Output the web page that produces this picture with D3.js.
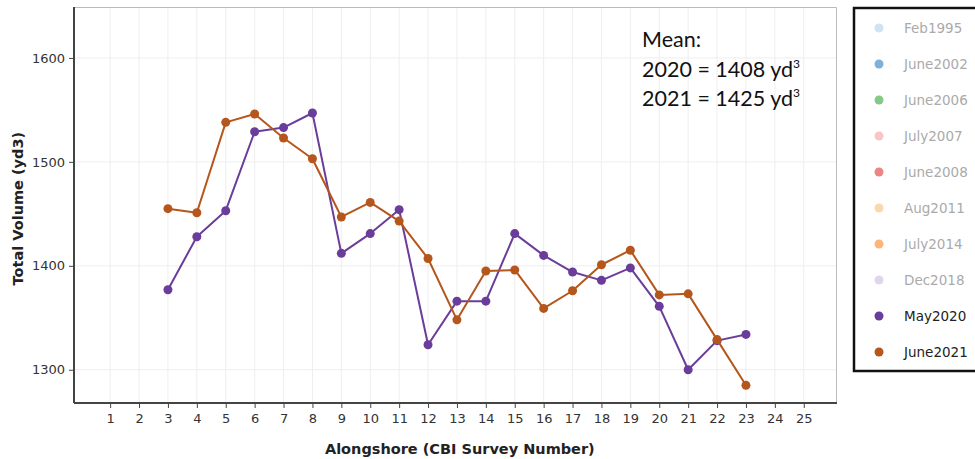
<!DOCTYPE html>
<html>
<head>
<script src="https://cdn.jsdelivr.net/npm/d3@7"></script>
<style>
    body { margin: 0; background: #fff; }
    .tick text { font-family: "DejaVu Sans", Verdana, sans-serif; font-size: 13px; fill: #333; }
    .axis-title { font-family: "DejaVu Sans", Verdana, sans-serif; font-size: 14.5px; font-weight: bold; fill: #222; }
    .legend text { font-family: "DejaVu Sans", Verdana, sans-serif; font-size: 13.5px; }
    .note { font-family: Lato, "Open Sans", sans-serif; font-size: 21.5px; fill: #111; }
</style>
</head>
<body>
<svg width="975" height="459"></svg>
<script>
    // survey numbers along shore
    var surveyNums = d3.range(3, 24);
    var xTicks = d3.range(1, 26);
    var yTicks = [1300, 1400, 1500, 1600];

    var may2020 = [1377, 1428, 1453, 1529, 1533, 1547, 1412, 1431, 1454, 1324, 1366, 1366,
        1431, 1410, 1394, 1386, 1398, 1361, 1300, 1328, 1334];
    var june2021 = [1455, 1451, 1538, 1546, 1523, 1503, 1447, 1461, 1443, 1407, 1348, 1395,
        1396, 1359, 1376, 1401, 1415, 1372, 1373, 1329, 1285];

    var legendNames = ["Feb1995", "June2002", "June2006", "July2007", "June2008",
        "Aug2011", "July2014", "Dec2018", "May2020", "June2021"];
    var legendColors = ["#cfe3f2", "#7fb0d8", "#86c987", "#f9c6c6", "#ee8383",
        "#fcd7ad", "#fdb678", "#e0d6ec", "#6a3d9a", "#b5571d"];
    var legendActive = ["May2020", "June2021"];

    var meanLines = [["2020 = 1408 yd", "3"], ["2021 = 1425 yd", "3"]];

    var svg = d3.select("svg"),
        margin = {top: 7, right: 138, bottom: 56, left: 74},
        width = +svg.attr("width") - margin.left - margin.right,
        height = +svg.attr("height") - margin.top - margin.bottom,
        g = svg.append("g").attr("transform", "translate(" + margin.left + "," + margin.top + ")");

    var x = d3.scaleLinear().domain([-0.25, 26.15]).range([0, width]);
    var y = d3.scaleLinear().domain([1268, 1649]).range([height, 0]);

    // grid
    g.append("g").selectAll("line").data(xTicks).enter().append("line")
        .attr("x1", function(d) { return x(d); }).attr("x2", function(d) { return x(d); })
        .attr("y1", 0).attr("y2", height)
        .attr("stroke", "#eee").attr("stroke-width", 1);
    g.append("g").selectAll("line").data(yTicks).enter().append("line")
        .attr("y1", function(d) { return y(d); }).attr("y2", function(d) { return y(d); })
        .attr("x1", 0).attr("x2", width)
        .attr("stroke", "#eee").attr("stroke-width", 1);

    // plot frame top/right
    g.append("path")
        .attr("d", "M0,0.5H" + (width - 0.5) + "V" + height)
        .attr("fill", "none").attr("stroke", "#bbb").attr("stroke-width", 1);

    var xAxis = g.append("g")
        .attr("transform", "translate(0," + height + ")")
        .call(d3.axisBottom(x).tickValues(xTicks).tickSize(5).tickPadding(6).tickFormat(d3.format("d")));
    xAxis.select(".domain").attr("stroke", "#444").attr("stroke-width", 2).attr("d", "M0,0H" + width);
    xAxis.selectAll(".tick line").attr("stroke", "#444");

    var yAxis = g.append("g")
        .call(d3.axisLeft(y).tickValues(yTicks).tickSize(5).tickPadding(4).tickFormat(d3.format("d")));
    yAxis.select(".domain").attr("stroke", "#444").attr("stroke-width", 2).attr("d", "M0,0V" + height);
    yAxis.selectAll(".tick line").attr("stroke", "#444");

    svg.append("text").attr("class", "axis-title")
        .attr("x", margin.left + x(13.1)).attr("y", 454)
        .attr("text-anchor", "middle")
        .text("Alongshore (CBI Survey Number)");
    svg.append("text").attr("class", "axis-title")
        .attr("transform", "translate(23," + (margin.top + y(1455)) + ") rotate(-90)")
        .attr("text-anchor", "middle")
        .text("Total Volume (yd3)");

    var line = d3.line()
        .x(function(d) { return x(d[0]); })
        .y(function(d) { return y(d[1]); });

    function drawSeries(vals, color) {
        var data = surveyNums.map(function(n, i) { return [n, vals[i]]; });
        g.append("path").datum(data)
            .attr("fill", "none").attr("stroke", color)
            .attr("stroke-width", 2).attr("stroke-linejoin", "round")
            .attr("d", line);
        g.append("g").selectAll("circle").data(data).enter().append("circle")
            .attr("cx", function(d) { return x(d[0]); })
            .attr("cy", function(d) { return y(d[1]); })
            .attr("r", 4.5).attr("fill", color);
    }
    drawSeries(may2020, legendColors[8]);
    drawSeries(june2021, legendColors[9]);

    // mean note
    var note = svg.append("g");
    note.append("text").attr("class", "note").attr("x", 642).attr("y", 47).text("Mean:");
    meanLines.forEach(function(m, i) {
        var t = note.append("text").attr("class", "note").attr("x", 642).attr("y", 77 + i * 29);
        t.append("tspan").text(m[0]);
        t.append("tspan").attr("dy", -9).attr("font-size", "12px").text(m[1]);
    });

    // legend
    var legend = svg.append("g").attr("class", "legend");
    legend.append("rect")
        .attr("x", 854).attr("y", 8).attr("width", 140).attr("height", 363)
        .attr("fill", "#fff").attr("stroke", "#111").attr("stroke-width", 2.5);
    var items = legend.selectAll("g.item").data(legendNames).enter().append("g")
        .attr("class", "item")
        .attr("transform", function(d, i) { return "translate(0," + (28 + i * 36) + ")"; });
    items.append("circle").attr("cx", 879).attr("cy", 0).attr("r", 4.5)
        .attr("fill", function(d, i) { return legendColors[i]; });
    items.append("text").attr("x", 904).attr("y", 5)
        .attr("fill", function(d) { return legendActive.indexOf(d) >= 0 ? "#222" : "#aaa"; })
        .text(function(d) { return d; });
</script>
</body>
</html>
